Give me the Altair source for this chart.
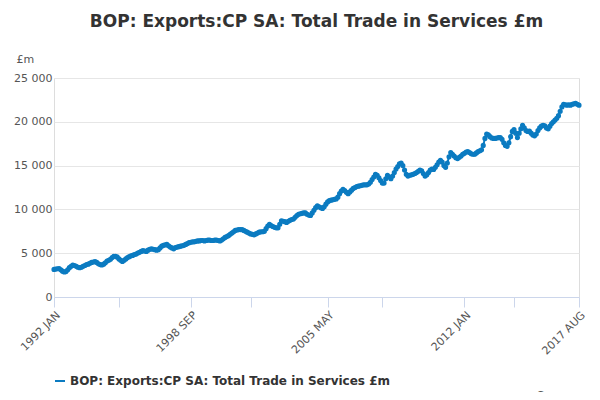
import altair as alt
import pandas as pd

series_name = "BOP: Exports:CP SA: Total Trade in Services £m"
start_year = 1992
values = [
3150,3200,3220,3250,3100,2950,2850,2900,3100,3350,3500,3650,
3600,3500,3400,3350,3400,3500,3600,3700,3750,3850,3950,4000,
4050,3950,3800,3700,3650,3750,3900,4100,4200,4300,4500,4650,
4650,4550,4350,4200,4050,4200,4350,4500,4600,4700,4750,4850,
4900,5000,5100,5200,5300,5250,5200,5350,5450,5500,5450,5400,
5350,5400,5600,5800,5900,5950,6000,5850,5700,5600,5500,5650,
5700,5750,5800,5850,5900,6000,6100,6200,6250,6300,6300,6350,
6400,6400,6450,6450,6400,6450,6500,6500,6450,6450,6500,6500,
6450,6400,6500,6650,6800,6900,7000,7150,7300,7450,7600,7650,
7700,7700,7700,7600,7500,7400,7300,7200,7150,7100,7200,7300,
7400,7450,7450,7500,7800,8100,8300,8150,8050,7950,7900,7900,
8300,8700,8650,8600,8500,8650,8750,8850,8900,9100,9300,9450,
9500,9550,9600,9600,9450,9350,9300,9600,9900,10200,10400,10300,
10200,10100,10300,10600,10850,11000,11050,11100,11150,11200,11400,11800,
12100,12300,12150,11950,11800,12000,12200,12400,12500,12600,12650,12700,
12750,12800,12800,12800,12900,13100,13400,13700,14000,13900,13600,13300,
13000,13000,13500,13900,13700,13500,13800,14200,14600,14900,15200,15300,
15000,14500,14000,13800,13900,13950,14000,14100,14200,14350,14500,14400,
14100,13800,13950,14200,14500,14600,14550,14800,15100,15400,15600,15400,
15000,14800,15300,16000,16500,16300,16100,15900,15800,15950,16100,16300,
16400,16550,16600,16500,16350,16300,16300,16450,16600,16700,16800,17300,
18100,18600,18500,18300,18150,18100,18100,18150,18200,18200,18000,17600,
17300,17200,17600,18300,18900,19100,18700,18200,18700,19200,19600,19300,
19000,18900,18950,18700,18500,18400,18600,19000,19300,19500,19600,19550,
19300,19200,19500,19800,20000,20200,20400,20700,21200,21700,22000,21950,
21900,21950,21900,22000,22050,22100,22000,21900,
]
months = ["JAN","FEB","MAR","APR","MAY","JUN","JUL","AUG","SEP","OCT","NOV","DEC"]
labels = [f"{start_year + i // 12} {months[i % 12]}" for i in range(len(values))]
df = pd.DataFrame({"m": list(range(len(values))), "v": values, "label": labels,
                   "series": series_name})

tick_vals = [0, 38, 80, 115, 160, 192, 240, 269, 307]
shown = {0: "1992 JAN", 80: "1998 SEP", 160: "2005 MAY", 240: "2012 JAN", 307: "2017 AUG"}
expr = " : ".join(f"datum.value == {k} ? '{v}'" for k, v in shown.items()) + " : ''"

color = "#0b7bc1"
chart = alt.Chart(df).mark_line(
    color=color, strokeWidth=2,
    point=alt.OverlayMarkDef(color=color, size=10, filled=True)
).encode(
    x=alt.X("m:Q", scale=alt.Scale(domain=[0, 307], nice=False),
            axis=alt.Axis(values=tick_vals, labelExpr=expr, title=None, grid=False,
                          labelAngle=-45, labelAlign="right", labelColor="#555",
                          labelFontSize=11, tickColor="#ccd6eb", domainColor="#ccd6eb",
                          tickSize=10, labelOverlap=False, labelPadding=2)),
    y=alt.Y("v:Q", scale=alt.Scale(domain=[0, 25000]),
            axis=alt.Axis(values=[0,5000,10000,15000,20000,25000], title="£m",
                          titleAngle=0, titleAnchor="end", titleAlign="left",
                          titleX=-38, titleY=-14, titleFontWeight="normal",
                          titleColor="#555", titleFontSize=11,
                          format=",d", labelExpr="replace(datum.label, ',', ' ')",
                          labelColor="#555", labelFontSize=11, domain=False, ticks=False,
                          gridColor="#e6e6e6")),
    stroke=alt.Stroke("series:N", scale=alt.Scale(range=[color]),
                      legend=alt.Legend(title=None, orient="bottom", labelFontSize=12,
                                        labelFontWeight="bold", labelColor="#333",
                                        symbolType="stroke", symbolStrokeWidth=2,
                                        labelLimit=500, offset=18)),
)

src = alt.Chart(pd.DataFrame({"t": ["Source:"]})).mark_text(
    align="right", fontSize=12, color="#555"
).encode(x=alt.value(528), y=alt.value(318), text="t:N")

final = alt.layer(chart, src).properties(
    width=584, height=384,
    title=alt.Title("BOP: Exports:CP SA: Total Trade in Services £m", fontSize=17,
                    fontWeight="bold", color="#333", anchor="middle", offset=22),
    autosize=alt.AutoSizeParams(type="fit", contains="padding"),
).configure_view(stroke=None).configure(font="DejaVu Sans")
final.save("out.html", embed_options={"renderer": "svg", "actions": False})
